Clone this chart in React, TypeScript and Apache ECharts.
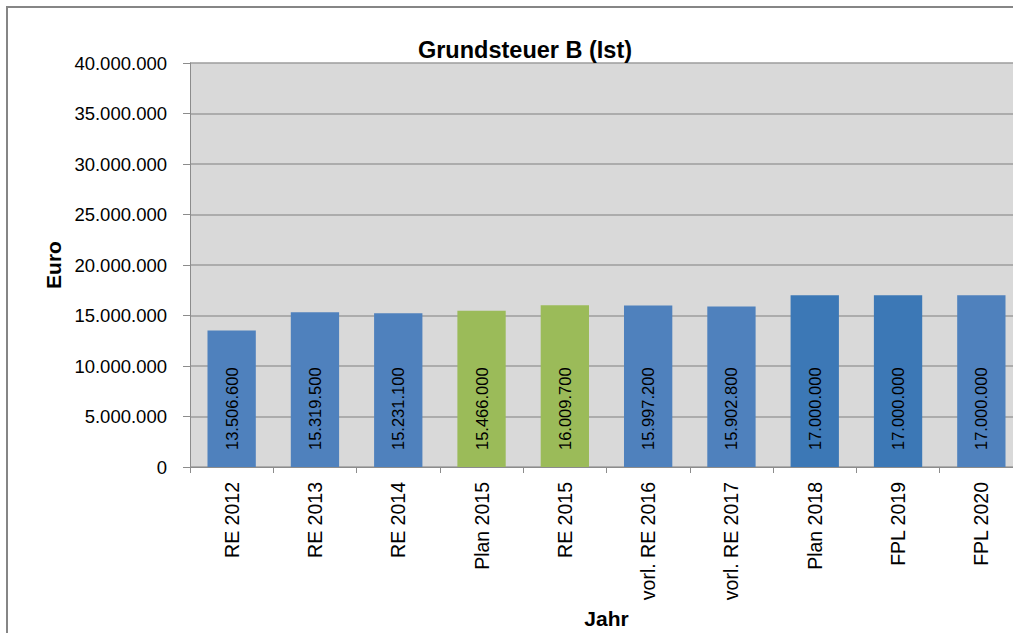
import React, { useEffect, useRef } from "react";
import * as echarts from "echarts";

const categories = [
  "RE 2012",
  "RE 2013",
  "RE 2014",
  "Plan 2015",
  "RE 2015",
  "vorl. RE 2016",
  "vorl. RE 2017",
  "Plan 2018",
  "FPL 2019",
  "FPL 2020",
];
const values = [13506600, 15319500, 15231100, 15466000, 16009700, 15997200, 15902800, 17000000, 17000000, 17000000];
const barColors = ["#4F81BD", "#4F81BD", "#4F81BD", "#9BBB59", "#9BBB59", "#4F81BD", "#4F81BD", "#3C78B6", "#3C78B6", "#4F81BD"];

const FONT = "Liberation Sans, Arial, sans-serif";
const fmt = (v: number) => Math.round(v).toString().replace(/\B(?=(\d{3})+(?!\d))/g, ".");

export default function App() {
  const ref = useRef<HTMLDivElement>(null);
  useEffect(() => {
    document.body.style.margin = "0";
    const chart = echarts.init(ref.current!, undefined, { renderer: "svg" });
    chart.setOption({
      animation: false,
      backgroundColor: "#ffffff",
      textStyle: { fontFamily: FONT },
      title: {
        text: "Grundsteuer B (Ist)",
        left: 520,
        top: 33,
        textAlign: "center",
        textStyle: { fontFamily: FONT, fontSize: 23.5, fontWeight: "bold", color: "#000" },
      },
      graphic: [
        {
          type: "rect",
          shape: { x: 7, y: 7, width: 1100, height: 700 },
          style: { fill: "none", stroke: "#868686", lineWidth: 2 },
          z: 100,
          silent: true,
        },
      ],
      grid: {
        left: 190,
        top: 63,
        width: 833,
        height: 404,
        backgroundColor: "#D9D9D9",
        show: true,
        borderWidth: 0,
        containLabel: false,
        outerBoundsMode: "none",
      },
      xAxis: {
        type: "category",
        data: categories,
        name: "Jahr",
        nameLocation: "middle",
        nameGap: 132,
        nameTextStyle: { fontFamily: FONT, fontSize: 21, fontWeight: "bold", color: "#000" },
        axisLine: { show: true, lineStyle: { color: "#8C8C8C", width: 1 } },
        axisTick: { show: true, length: 6, alignWithLabel: false, lineStyle: { color: "#8C8C8C" } },
        axisLabel: { rotate: 90, margin: 15, fontFamily: FONT, fontSize: 19.5, color: "#000", interval: 0 },
        splitLine: { show: false },
      },
      yAxis: {
        type: "value",
        min: 0,
        max: 40000000,
        interval: 5000000,
        name: "Euro",
        nameLocation: "middle",
        nameGap: 125,
        nameRotate: 90,
        nameTextStyle: { fontFamily: FONT, fontSize: 21, fontWeight: "bold", color: "#000" },
        axisLine: { show: true, lineStyle: { color: "#8C8C8C", width: 1 } },
        axisTick: { show: true, inside: false, length: 7, lineStyle: { color: "#8C8C8C" } },
        axisLabel: { margin: 23, fontFamily: FONT, fontSize: 18.5, color: "#000", formatter: (v: number) => fmt(v) },
        splitLine: { show: true, lineStyle: { color: "#9C9C9C", width: 1.5 } },
      },
      series: [
        {
          type: "bar",
          data: values.map((v, i) => ({ value: v, itemStyle: { color: barColors[i] } })),
          barCategoryGap: "42%",
          label: {
            show: true,
            position: "insideBottom",
            rotate: 90,
            align: "left",
            verticalAlign: "middle",
            distance: 17,
            fontFamily: FONT,
            fontSize: 16.5,
            color: "#000",
            formatter: (p: any) => fmt(p.value),
          },
        },
      ],
    });
    return () => chart.dispose();
  }, []);
  return <div ref={ref} style={{ position: "absolute", left: 0, top: 0, width: 1013, height: 633 }} />;
}
